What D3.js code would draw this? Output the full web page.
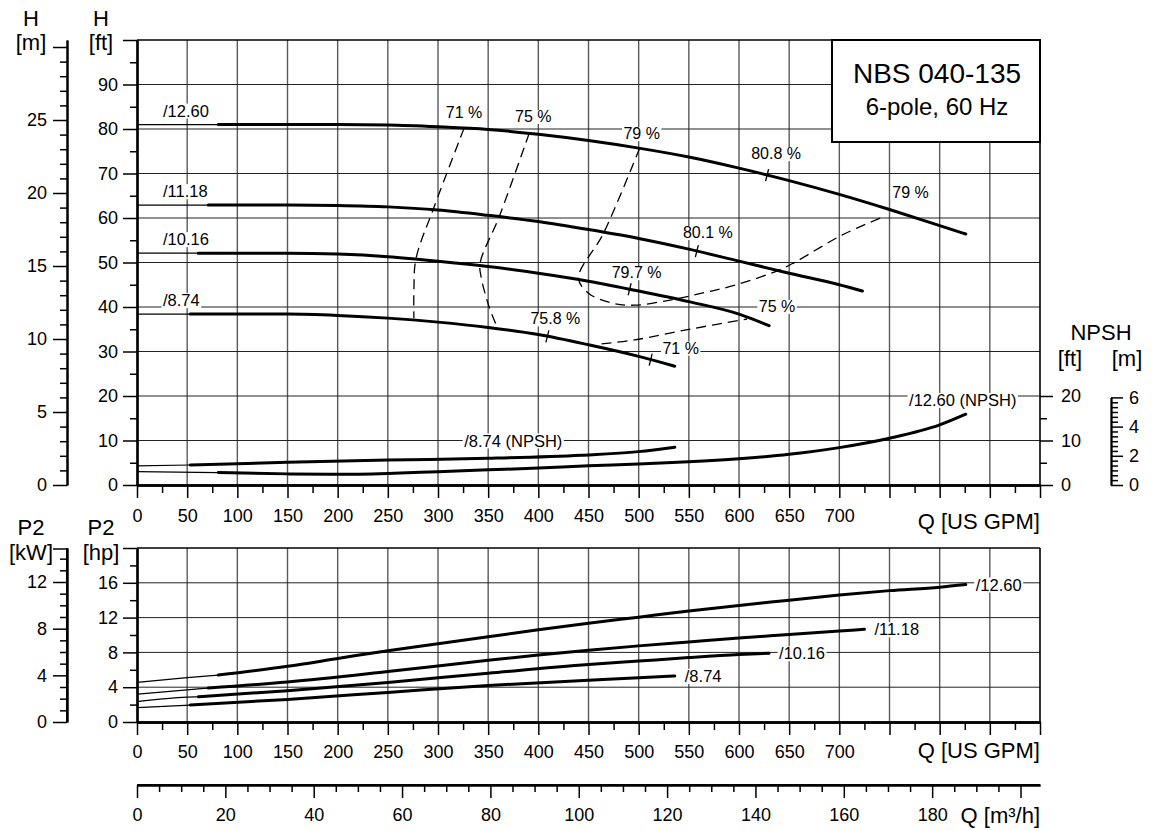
<!DOCTYPE html>
<html><head><meta charset="utf-8">
<script src="https://cdn.jsdelivr.net/npm/d3@7"></script>
<style>
html,body{margin:0;padding:0;background:#fff;}
svg{display:block;font-family:"Liberation Sans",Arial,Helvetica,sans-serif;}
</style></head><body>
<svg id="c" width="1152" height="831"></svg>
<script>
// ---------------- DATA ----------------
const impellers = ["/12.60", "/11.18", "/10.16", "/8.74"];
const startQ = [81, 71, 61, 53];            // start of the thick (catalogue) range, US GPM

// Head curves, H [ft] vs Q [US GPM]
const hQ1260 = [0, 81, 150, 200, 250, 300, 350, 400, 450, 500, 550, 600, 650, 700, 750, 800, 826];
const hH1260 = [81, 81, 81, 81, 80.9, 80.5, 79.9, 78.8, 77.4, 75.7, 73.7, 71.2, 68.4, 65.3, 61.9, 58.3, 56.4];
const hQ1118 = [0, 71, 150, 200, 250, 300, 350, 400, 450, 500, 550, 600, 650, 700, 723];
const hH1118 = [62.9, 62.9, 62.9, 62.8, 62.5, 61.8, 60.6, 59.2, 57.4, 55.4, 53.0, 50.3, 47.6, 45.0, 43.6];
const hQ1016 = [0, 61, 100, 150, 200, 250, 300, 350, 400, 450, 500, 550, 600, 630];
const hH1016 = [52.1, 52.1, 52.1, 52.1, 51.9, 51.3, 50.3, 49.1, 47.6, 45.8, 43.6, 41.2, 38.4, 35.8];
const hQ874 = [0, 53, 100, 150, 200, 250, 300, 350, 400, 450, 500, 536];
const hH874 = [38.4, 38.4, 38.4, 38.4, 38.1, 37.5, 36.6, 35.4, 33.8, 31.5, 28.9, 26.7];

// NPSH curves [ft]
const nQ1260 = [0, 81, 150, 200, 250, 300, 350, 400, 450, 500, 550, 600, 650, 700, 750, 800, 826];
const nH1260 = [3.0, 2.8, 2.5, 2.4, 2.6, 3.0, 3.4, 3.8, 4.3, 4.7, 5.2, 5.9, 6.9, 8.4, 10.5, 13.5, 15.9];
const nQ874 = [0, 53, 150, 250, 350, 443, 500, 536];
const nH874 = [4.3, 4.5, 5.1, 5.6, 6.0, 6.7, 7.5, 8.5];

// Power curves P2 [hp]
const pQ1260 = [0, 50, 81, 150, 200, 250, 300, 350, 400, 450, 500, 550, 600, 650, 700, 750, 800, 826];
const pP1260 = [4.55, 5.1, 5.4, 6.4, 7.3, 8.2, 9.0, 9.8, 10.6, 11.35, 12.05, 12.75, 13.4, 14.0, 14.6, 15.1, 15.5, 15.8];
const pQ1118 = [0, 50, 71, 150, 250, 350, 400, 450, 500, 550, 600, 650, 700, 725];
const pP1118 = [3.2, 3.7, 3.9, 4.6, 5.8, 7.1, 7.7, 8.25, 8.75, 9.2, 9.65, 10.05, 10.45, 10.65];
const pQ1016 = [0, 50, 61, 150, 250, 350, 450, 500, 550, 600, 630];
const pP1016 = [2.35, 2.85, 2.9, 3.6, 4.55, 5.6, 6.6, 7.0, 7.4, 7.75, 7.9];
const pQ874 = [0, 53, 150, 250, 350, 450, 500, 536];
const pP874 = [1.65, 1.95, 2.6, 3.4, 4.2, 4.8, 5.08, 5.3];

// Iso-efficiency lines (Q [US GPM], H [ft])
const eff71Q = [326, 296, 278, 276, 276];
const eff71H = [80.2, 62.4, 50.8, 44.0, 37.5];
const eff75Q = [391, 361, 342, 343, 351, 358];
const eff75H = [79.1, 60.3, 49.9, 46.7, 40.0, 36.0];
const eff79Q = [501, 465, 440, 450, 473, 496, 530, 563, 596, 640, 656, 703, 741];
const eff79H = [75.7, 56.6, 46.5, 43.1, 40.9, 40.4, 41.5, 43.1, 44.9, 48.3, 50.1, 56.2, 60.0];
const eff75RQ = [463, 496, 553, 608];
const eff75RH = [31.7, 32.6, 35.1, 37.3];
const isoLabels = ["71 %", "75 %", "79 %", "79 %", "75 %"];

// Best-efficiency marks on curves
const effPtLabel = ["80.8 %", "80.1 %", "79.7 %", "75.8 %", "71 %"];
const effPtQ = [628, 558, 491, 409, 512];
const effPtCurve = [0, 1, 2, 3, 3];

// Axis ticks
const qTicksLabeled = [0, 50, 100, 150, 200, 250, 300, 350, 400, 450, 500, 550, 600, 650, 700];
const m3hLabeled = [0, 20, 40, 60, 80, 100, 120, 140, 160, 180];

// ---------------- LAYOUT ----------------
const L = 137, R = 1040, T1 = 40, B1 = 485, T2 = 548, B2 = 722, YM3 = 785;
const XM = 67, XN = 1111;
const FT = 0.3048, HP2KW = 0.745699872, GPM_PER_M3H = 4.402868;

const svg = d3.select("#c");
const gGrid = svg.append("g");
const gBg = svg.append("g");
const gAxes = svg.append("g");
const gCurves = svg.append("g");
const gText = svg.append("g");

const x = d3.scaleLinear([0, 900], [L, R]);
const yH = d3.scaleLinear([0, 100], [B1, T1]);
const yHm = d3.scaleLinear([0, 100 * FT], [B1, T1]);
const yP = d3.scaleLinear([0, 20], [B2, T2]);
const yPk = d3.scaleLinear([0, 20 * HP2KW], [B2, T2]);
const xM3 = d3.scaleLinear([0, 900 / GPM_PER_M3H], [L, R]);
const yNm = d3.scaleLinear([0, 6], [yHm(0), yHm(6)]);

const zip = (a, b) => a.map((v, i) => [v, b[i]]);
const interp = (qa, ha, q) => {
  for (let i = 1; i < qa.length; i++) if (q <= qa[i]) {
    const t = (q - qa[i-1]) / (qa[i] - qa[i-1]); return ha[i-1] + t * (ha[i] - ha[i-1]);
  }
  return ha[ha.length - 1];
};

// ---------------- GRID ----------------
function grid(top, bottom, yScale, yVals) {
  const g = gGrid.append("g");
  g.selectAll(".v").data(d3.range(50, 900, 50)).join("line")
    .attr("x1", d => x(d)).attr("x2", d => x(d)).attr("y1", top).attr("y2", bottom)
    .attr("stroke", "#5a5a5a").attr("stroke-width", 1.4);
  g.selectAll(".h").data(yVals).join("line")
    .attr("x1", L).attr("x2", R).attr("y1", d => yScale(d)).attr("y2", d => yScale(d))
    .attr("stroke", "#222").attr("stroke-width", 1);
  g.append("line").attr("x1", L).attr("x2", R).attr("y1", top).attr("y2", top).attr("stroke", "#000").attr("stroke-width", 1.6);
  g.append("line").attr("x1", R).attr("x2", R).attr("y1", top).attr("y2", bottom).attr("stroke", "#000").attr("stroke-width", 1.6);
}
grid(T1, B1, yH, d3.range(10, 100, 10));
grid(T2, B2, yP, [4, 8, 12, 16]);

// ---------------- AXES ----------------
function styleAxis(g, fs, dw) {
  g.attr("font-size", fs).attr("font-family", null);
  g.selectAll("text").attr("fill", "#000");
  g.selectAll(".tick line").attr("stroke", "#000").attr("stroke-width", 1.5);
  g.select(".domain").attr("stroke", "#000").attr("stroke-width", dw);
}
function vAxis(xpos, scale, major, minor, fmt, side, majLen, minLen, pad, dw) {
  const mk = side === "left" ? d3.axisLeft : d3.axisRight;
  const g2 = gAxes.append("g").attr("transform", `translate(${xpos},0)`)
    .call(mk(scale).tickValues(minor).tickSize(minLen).tickSizeOuter(0).tickFormat(""));
  styleAxis(g2, 18, dw);
  const g = gAxes.append("g").attr("transform", `translate(${xpos},0)`)
    .call(mk(scale).tickValues(major).tickSize(majLen).tickSizeOuter(0).tickPadding(pad).tickFormat(fmt));
  styleAxis(g, 18, dw);
}
function hAxis(ypos, scale, major, minor, fmt, majLen, minLen, pad, dw) {
  const g2 = gAxes.append("g").attr("transform", `translate(0,${ypos})`)
    .call(d3.axisBottom(scale).tickValues(minor).tickSize(minLen).tickSizeOuter(0).tickFormat(""));
  styleAxis(g2, 18, dw);
  const g = gAxes.append("g").attr("transform", `translate(0,${ypos})`)
    .call(d3.axisBottom(scale).tickValues(major).tickSize(majLen).tickSizeOuter(0).tickPadding(pad).tickFormat(fmt));
  styleAxis(g, 18, dw);
}
// H ft
vAxis(L, yH, d3.range(0, 101, 10), d3.range(5, 100, 10), d => d === 100 ? "" : d, "left", 14, 7, 5, 2.2);
// H m
vAxis(XM, yHm, d3.range(0, 31, 5), d3.range(0, 31, 1).filter(d => d % 5), d => d === 30 ? "" : d, "left", 14, 7, 6, 2);
// P2 hp
vAxis(L, yP, d3.range(0, 21, 4), d3.range(2, 20, 4), d => d === 20 ? "" : d, "left", 14, 7, 5, 2.2);
// P2 kW
gAxes.append("line").attr("x1", XM).attr("x2", XM - 14).attr("y1", T2 + 1).attr("y2", T2 + 1).attr("stroke", "#000").attr("stroke-width", 1.5);
vAxis(XM, yPk, d3.range(0, 13, 4), d3.range(0, 15, 1).filter(d => d % 4), d => d, "left", 14, 7, 6, 2);
gAxes.append("line").attr("x1", XM).attr("x2", XM).attr("y1", T2).attr("y2", yPk(0)).attr("stroke", "#000").attr("stroke-width", 2);
// NPSH ft (right)
{
  const sc = d3.scaleLinear([0, 20], [yH(0), yH(20)]);
  vAxis(R, sc, [0, 10, 20], [5, 15], d => d, "right", 13, 7, 8, 0);
}
// NPSH m
vAxis(XN, yNm, [0, 2, 4, 6], d3.range(0, 6.01, 1/3).filter(d => Math.abs(d / 2 - Math.round(d / 2)) > 0.01), d => d, "right", 12, 7, 6, 1.8);

// Q axes
const minorQ = d3.range(25, 900, 50);
const majorQ = d3.range(0, 901, 50);
hAxis(B1, x, majorQ, minorQ, d => qTicksLabeled.includes(d) ? d : "", 13, 8, 11, 2.6);
hAxis(B2, x, majorQ, minorQ, d => qTicksLabeled.includes(d) ? d : "", 13, 8, 10, 2.6);
hAxis(YM3, xM3, d3.range(0, 201, 20), d3.range(5, 201, 5).filter(d => d % 20), d => m3hLabeled.includes(d) ? d : "", 13, 7, 10, 1.8);
gAxes.append("line").attr("x1", L).attr("x2", R).attr("y1", YM3).attr("y2", YM3).attr("stroke", "#000").attr("stroke-width", 1.8);

// ---------------- TITLES ----------------
function txt(xp, yp, s, fs, anchor) {
  return gText.append("text").attr("x", xp).attr("y", yp).attr("font-size", fs)
    .attr("text-anchor", anchor || "middle").attr("fill", "#000").text(s);
}
txt(31, 26, "H", 22); txt(31, 50, "[m]", 22);
txt(101, 26, "H", 22); txt(101, 50, "[ft]", 22);
txt(31, 535, "P2", 22); txt(31, 560, "[kW]", 22);
txt(101, 535, "P2", 22); txt(101, 560, "[hp]", 22);
txt(1101, 340, "NPSH", 22); txt(1070, 366, "[ft]", 22); txt(1127, 366, "[m]", 22);
txt(R, 529, "Q [US GPM]", 22, "end");
txt(R, 758, "Q [US GPM]", 22, "end");
txt(R, 823, "Q [m³/h]", 22, "end");

// Title box
gText.append("rect").attr("x", 832).attr("y", T1).attr("width", R - 832).attr("height", 102)
  .attr("fill", "#fff").attr("stroke", "#000").attr("stroke-width", 2);
txt(937, 83, "NBS 040-135", 28);
txt(937, 115, "6-pole, 60 Hz", 24);

// ---------------- CURVES ----------------
const lineH = d3.line().x(d => x(d[0])).y(d => yH(d[1])).curve(d3.curveMonotoneX);
const lineP = d3.line().x(d => x(d[0])).y(d => yP(d[1])).curve(d3.curveMonotoneX);
function drawCurve(pts, start, gen) {
  gCurves.append("path").attr("d", gen(pts.filter(p => p[0] <= start)))
    .attr("fill", "none").attr("stroke", "#000").attr("stroke-width", 1.2);
  gCurves.append("path").attr("d", gen(pts.filter(p => p[0] >= start)))
    .attr("fill", "none").attr("stroke", "#000").attr("stroke-width", 3).attr("stroke-linecap", "round");
}
const headCurves = [zip(hQ1260, hH1260), zip(hQ1118, hH1118), zip(hQ1016, hH1016), zip(hQ874, hH874)];
const powerCurves = [zip(pQ1260, pP1260), zip(pQ1118, pP1118), zip(pQ1016, pP1016), zip(pQ874, pP874)];
const npshCurves = [[0, zip(nQ1260, nH1260)], [3, zip(nQ874, nH874)]];
headCurves.forEach((c, i) => drawCurve(c, startQ[i], lineH));
powerCurves.forEach((c, i) => drawCurve(c, startQ[i], lineP));
npshCurves.forEach(([i, c]) => drawCurve(c, startQ[i], lineH));

// Iso-efficiency dashed lines
const lineE = d3.line().x(d => x(d[0])).y(d => yH(d[1])).curve(d3.curveCatmullRom.alpha(0.5));
const effLines = [zip(eff71Q, eff71H), zip(eff75Q, eff75H), zip(eff79Q, eff79H), zip(eff75RQ, eff75RH)];
effLines.forEach(c => gCurves.append("path").attr("d", lineE(c)).attr("fill", "none")
  .attr("stroke", "#000").attr("stroke-width", 1.3).attr("stroke-dasharray", "10,6"));

// Efficiency marks
effPtQ.forEach((q, i) => {
  const c = effPtCurve[i];
  const cx = x(q), cy = yH(interp(headCurves[c].map(p => p[0]), headCurves[c].map(p => p[1]), q));
  gCurves.append("line").attr("x1", cx + 1.5).attr("y1", cy - 6).attr("x2", cx - 1.5).attr("y2", cy + 6)
    .attr("stroke", "#000").attr("stroke-width", 1.3);
});

// ---------------- LABELS (white background hides grid only) ----------------
function blabel(xp, yp, s, fs, anchor) {
  const t = gText.append("text").attr("x", xp).attr("y", yp).attr("font-size", fs)
    .attr("text-anchor", anchor || "middle").attr("fill", "#000").text(s);
  const bb = t.node().getBBox();
  gBg.append("rect").attr("x", bb.x - 1.5).attr("y", bb.y + 2).attr("width", bb.width + 3)
    .attr("height", bb.height - 3).attr("fill", "#fff");
}
// impeller labels on head curves (left)
impellers.forEach((s, i) => blabel(163, yH(headCurves[i][0][1]) - 8, s, 16.5, "start"));
// impeller labels on power curves (right end)
impellers.forEach((s, i) => {
  const last = powerCurves[i][powerCurves[i].length - 1];
  blabel(x(last[0]) + 10, yP(last[1]) + 6, s, 16.5, "start");
});
// NPSH labels
{
  const l0 = npshCurves[0][1][npshCurves[0][1].length - 1];
  blabel(x(l0[0]) - 3, yH(20) + 10, impellers[0] + " (NPSH)", 16.5, "middle");
  blabel(x(375), yH(10) + 6, impellers[3] + " (NPSH)", 16.5, "middle");
}
// efficiency-point labels
const effDx = [9, 11, 7, 8, 30], effDy = [-16, -13, -11, -12, -6];
effPtQ.forEach((q, i) => {
  const c = effPtCurve[i];
  const cx = x(q), cy = yH(interp(headCurves[c].map(p => p[0]), headCurves[c].map(p => p[1]), q));
  blabel(cx + effDx[i], cy + effDy[i], effPtLabel[i], 16, "middle");
});
// iso-line labels
{
  const ends = [effLines[0][0], effLines[1][0], effLines[2][0], effLines[2][effLines[2].length - 1], effLines[3][effLines[3].length - 1]];
  const dx = [0, 4, 2, 30, 30], dy = [-10, -11, -9, -20, -7];
  ends.forEach((p, i) => blabel(x(p[0]) + dx[i], yH(p[1]) + dy[i], isoLabels[i], 16, "middle"));
}
</script>
</body></html>
